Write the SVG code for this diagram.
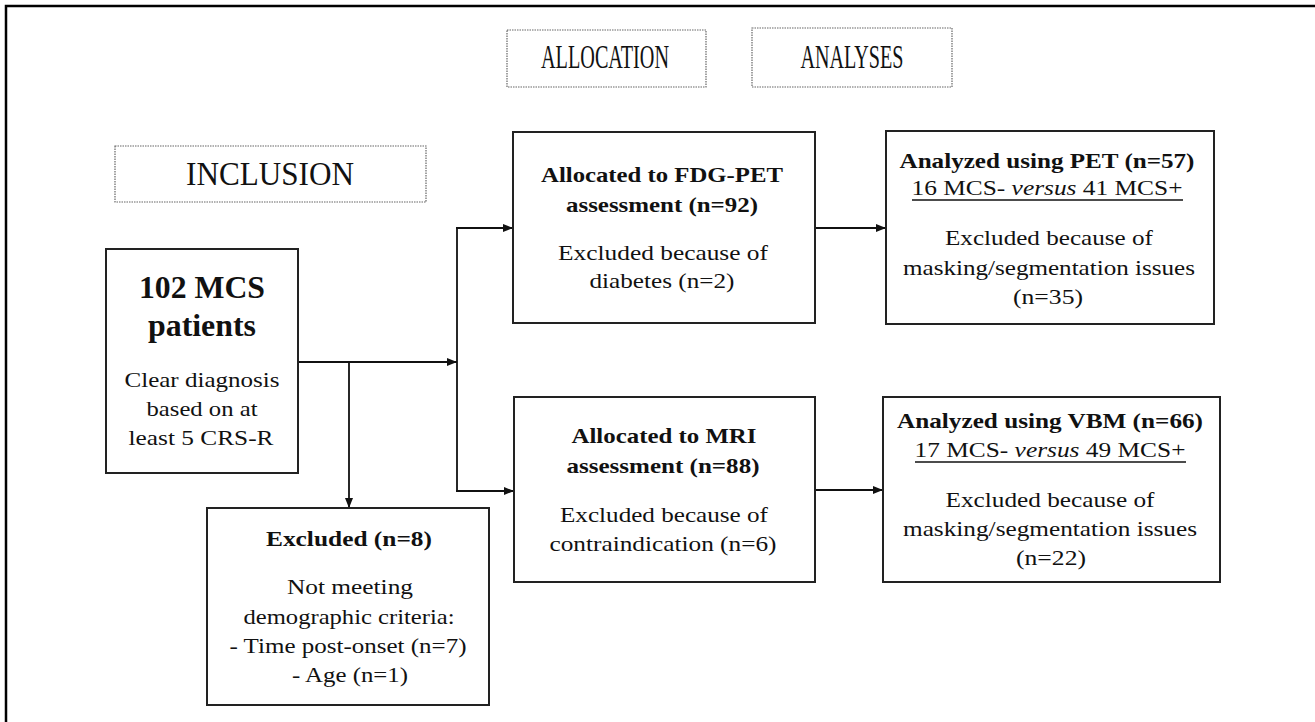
<svg xmlns="http://www.w3.org/2000/svg" width="1315" height="722" viewBox="0 0 1315 722">
<defs>
<marker id="ah" viewBox="0 0 10 10" refX="10" refY="5" markerWidth="10" markerHeight="10" markerUnits="userSpaceOnUse" orient="auto">
<path d="M0,1 L10,5 L0,9 Z" fill="#111"/>
</marker>
<style>
text{font-family:"Liberation Serif","Times New Roman",serif;fill:#111;text-anchor:middle}
.hdr{font-size:33px}
.b{font-weight:bold;font-size:22px}
.r{font-size:22px}
.big{font-weight:bold;font-size:31px}
.box{fill:#fff;stroke:#222;stroke-width:2}
.hbox{fill:#fff;stroke:#666;stroke-width:1.2;stroke-dasharray:1.5 1}
.c{fill:none;stroke:#111;stroke-width:1.8}
.u{stroke:#111;stroke-width:1.4}
</style>
</defs>
<rect width="1315" height="722" fill="#fff"/>
<path d="M6,722 L6,6 L1315,6" fill="none" stroke="#000" stroke-width="2.5"/>

<g id="hdr-inclusion">
<rect class="hbox" x="115" y="146" width="311" height="56"/>
<text class="hdr" x="270" y="185" textLength="168" lengthAdjust="spacingAndGlyphs">INCLUSION</text>
</g>
<g id="hdr-allocation">
<rect class="hbox" x="507" y="30" width="199" height="57"/>
<text class="hdr" x="605" y="68" textLength="128" lengthAdjust="spacingAndGlyphs">ALLOCATION</text>
</g>
<g id="hdr-analyses">
<rect class="hbox" x="752" y="28" width="200" height="59"/>
<text class="hdr" x="852" y="68" textLength="103" lengthAdjust="spacingAndGlyphs">ANALYSES</text>
</g>

<g id="connectors">
<line class="c" x1="298" y1="362" x2="457" y2="362" marker-end="url(#ah)"/>
<line class="c" x1="457" y1="228" x2="457" y2="491"/>
<line class="c" x1="456" y1="228" x2="513" y2="228" marker-end="url(#ah)"/>
<line class="c" x1="456" y1="491" x2="514" y2="491" marker-end="url(#ah)"/>
<line class="c" x1="349" y1="362" x2="349" y2="508" marker-end="url(#ah)"/>
<line class="c" x1="815" y1="228" x2="886" y2="228" marker-end="url(#ah)"/>
<line class="c" x1="815" y1="490" x2="883" y2="490" marker-end="url(#ah)"/>
</g>

<g id="node-patients">
<rect class="box" x="106" y="249" width="192" height="224"/>
<text class="big" x="202" y="298" textLength="126" lengthAdjust="spacingAndGlyphs">102 MCS</text>
<text class="big" x="202" y="336" textLength="108" lengthAdjust="spacingAndGlyphs">patients</text>
<text class="r" x="202" y="387" textLength="155" lengthAdjust="spacingAndGlyphs">Clear diagnosis</text>
<text class="r" x="202" y="416" textLength="111" lengthAdjust="spacingAndGlyphs">based on at</text>
<text class="r" x="201" y="445" textLength="145" lengthAdjust="spacingAndGlyphs">least 5 CRS-R</text>
</g>

<g id="node-excluded">
<rect class="box" x="207" y="508" width="282" height="197"/>
<text class="b" x="349" y="546" textLength="166" lengthAdjust="spacingAndGlyphs">Excluded (n=8)</text>
<text class="r" x="350" y="594" textLength="126" lengthAdjust="spacingAndGlyphs">Not meeting</text>
<text class="r" x="349" y="624" textLength="211" lengthAdjust="spacingAndGlyphs">demographic criteria:</text>
<text class="r" x="348" y="653" textLength="237" lengthAdjust="spacingAndGlyphs">- Time post-onset (n=7)</text>
<text class="r" x="350" y="682" textLength="116" lengthAdjust="spacingAndGlyphs">- Age (n=1)</text>
</g>

<g id="node-fdg">
<rect class="box" x="513" y="132" width="302" height="191"/>
<text class="b" x="662" y="182" textLength="242" lengthAdjust="spacingAndGlyphs">Allocated to FDG-PET</text>
<text class="b" x="662" y="212" textLength="192" lengthAdjust="spacingAndGlyphs">assessment (n=92)</text>
<text class="r" x="663" y="260" textLength="210" lengthAdjust="spacingAndGlyphs">Excluded because of</text>
<text class="r" x="662" y="288" textLength="145" lengthAdjust="spacingAndGlyphs">diabetes (n=2)</text>
</g>

<g id="node-mri">
<rect class="box" x="514" y="397" width="301" height="185"/>
<text class="b" x="664" y="443" textLength="185" lengthAdjust="spacingAndGlyphs">Allocated to MRI</text>
<text class="b" x="663" y="473" textLength="193" lengthAdjust="spacingAndGlyphs">assessment (n=88)</text>
<text class="r" x="664" y="522" textLength="208" lengthAdjust="spacingAndGlyphs">Excluded because of</text>
<text class="r" x="663" y="551" textLength="227" lengthAdjust="spacingAndGlyphs">contraindication (n=6)</text>
</g>

<g id="node-pet">
<rect class="box" x="886" y="131" width="328" height="193"/>
<text class="b" x="1047" y="168" textLength="295" lengthAdjust="spacingAndGlyphs">Analyzed using PET (n=57)</text>
<text class="r" x="1047" y="195" textLength="271" lengthAdjust="spacingAndGlyphs">16 MCS- <tspan font-style="italic">versus</tspan> 41 MCS+</text>
<line class="u" x1="912" y1="200" x2="1183" y2="200"/>
<text class="r" x="1049" y="245" textLength="208" lengthAdjust="spacingAndGlyphs">Excluded because of</text>
<text class="r" x="1049" y="275" textLength="292" lengthAdjust="spacingAndGlyphs">masking/segmentation issues</text>
<text class="r" x="1048" y="304" textLength="70" lengthAdjust="spacingAndGlyphs">(n=35)</text>
</g>

<g id="node-vbm">
<rect class="box" x="883" y="397" width="337" height="185"/>
<text class="b" x="1050" y="428" textLength="306" lengthAdjust="spacingAndGlyphs">Analyzed using VBM (n=66)</text>
<text class="r" x="1050" y="457" textLength="271" lengthAdjust="spacingAndGlyphs">17 MCS- <tspan font-style="italic">versus</tspan> 49 MCS+</text>
<line class="u" x1="915" y1="462" x2="1186" y2="462"/>
<text class="r" x="1050" y="507" textLength="209" lengthAdjust="spacingAndGlyphs">Excluded because of</text>
<text class="r" x="1050" y="536" textLength="294" lengthAdjust="spacingAndGlyphs">masking/segmentation issues</text>
<text class="r" x="1051" y="565" textLength="70" lengthAdjust="spacingAndGlyphs">(n=22)</text>
</g>
</svg>
